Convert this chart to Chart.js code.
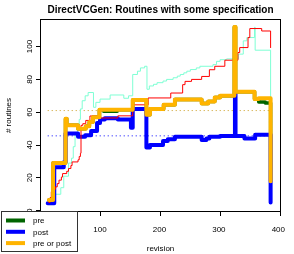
<!DOCTYPE html>
<html>
<head>
<meta charset="utf-8">
<script src="https://cdn.jsdelivr.net/npm/chart.js@4.4.1/dist/chart.umd.min.js"></script>
<style>
  html, body { margin: 0; padding: 0; background: #fff; }
</style>
</head>
<body>
<canvas id="myChart" width="294" height="254"></canvas>
<script>
// [revision, routines] pairs, each value holds until the next revision
const pre = [[14, 6.5], [21, 29], [42, 56], [44, 52], [63, 50], [76, 51.5], [82, 54], [88, 57], [99, 61.5],
  [106, 60.6], [129, 61.5], [155, 67.5], [178, 58.5], [184, 62], [207, 64.5], [226, 67.7], [271, 65.3],
  [282, 66.5], [293, 69], [302, 70], [326, 112], [328, 72.5], [360, 68], [367, 66.3], [378, 65.6], [387, 18]];
const post = [[12, 4.5], [23, 26.5], [39, 29.5], [42, 47], [63, 45], [75, 46], [85, 48.5], [95, 53.5],
  [100, 55.5], [108, 56.3], [130, 55.5], [152, 50.5], [155, 62], [178, 38.5], [184, 40], [206, 42.5],
  [214, 43.5], [226, 45], [271, 43], [279, 44], [284, 45], [302, 45.5], [327, 71], [328, 45.5],
  [343, 44], [361, 46.3], [387, 5]];
const preOrPost = [[14, 6.5], [21, 29], [42, 56], [44, 52], [63, 50], [76, 51.5], [82, 54], [88, 57], [99, 61.5],
  [155, 67.5], [178, 58.5], [184, 62], [207, 64.5], [226, 67.7], [271, 65.3], [282, 66.5], [293, 69],
  [302, 70], [326, 112], [328, 72.5], [360, 68], [367, 68.5], [387, 18]];
const allRoutines = [[14, 5], [16, 8], [18, 11.5], [21, 13], [25, 14.5], [28, 16.5], [31, 18.6], [35, 20.5],
  [37, 22.6], [44, 24], [47, 25.7], [51, 27.5], [53, 29.7], [63, 31], [65, 33], [67, 35], [68, 52], [71, 53],
  [76, 55], [83, 57.7], [96, 56.5], [130, 57.8], [155, 64.5], [181, 68.7], [219, 71.7], [239, 76.8],
  [243, 78.8], [254, 80], [271, 81.8], [284, 85.9], [293, 88], [310, 91.7], [332, 96.4], [335, 99.4],
  [349, 105.5], [352, 111], [372, 109.5], [387, 99.4]];
const otherRoutines = [[15, 6], [21, 10], [34, 14], [39, 21], [47, 29], [52, 32], [55, 39], [58, 47.5],
  [62, 50], [65, 55.6], [67, 62], [70, 67], [75, 70], [80, 72], [89, 63], [93, 66], [100, 68], [117, 70.5],
  [140, 68.5], [148, 70], [155, 83], [163, 85], [168, 87], [175, 88], [179, 74], [183, 76], [190, 77],
  [196, 78], [206, 79], [212, 80], [223, 81], [230, 82], [235, 83], [241, 84], [246, 85], [252, 86],
  [262, 87], [268, 88], [290, 89], [296, 91], [302, 92], [313, 92.5], [333, 95.4], [341, 103.5],
  [347, 105.5], [360, 111.8], [361, 97.8], [387, 18]];
const meanPost = 45.6;
const meanPreOrPost = 61;
const revRange = [12, 387];
const xTicks = [100, 200, 300, 400];
const yTicks = [0, 20, 40, 60, 80, 100];
const legendLabels = ["pre", "post", "pre or post"];

const FONT = "'Liberation Sans', Arial, sans-serif";
const toXY = (arr) => arr.map(([x, y]) => ({ x, y }));

function stepLine(data, color, width, order) {
  return {
    data: toXY(data),
    borderColor: color,
    borderWidth: width,
    stepped: true,
    pointRadius: 0,
    fill: false,
    borderCapStyle: "round",
    borderJoinStyle: "round",
    order: order,
  };
}
function hLine(value, color, order) {
  return {
    data: revRange.map((x) => ({ x, y: value })),
    borderColor: color,
    borderWidth: 1,
    borderDash: [1, 3],
    pointRadius: 0,
    fill: false,
    order: order,
  };
}

// frame, tick labels, titles and legend in R style
const rStyle = {
  id: "rStyle",
  afterDraw(chart) {
    const { ctx, chartArea: a, scales } = chart;
    const x = scales.x, y = scales.y;
    ctx.save();
    ctx.strokeStyle = "#000";
    ctx.lineWidth = 1;
    ctx.strokeRect(a.left - 0.5, a.top - 0.5, a.right - a.left + 1, a.bottom - a.top + 1);

    ctx.fillStyle = "#000";
    ctx.font = "8px " + FONT;
    ctx.textAlign = "center";
    ctx.textBaseline = "alphabetic";
    xTicks.forEach((t) => ctx.fillText(String(t), x.getPixelForValue(t), 231.5));
    yTicks.forEach((t) => {
      ctx.save();
      ctx.translate(31.5, y.getPixelForValue(t));
      ctx.rotate(-Math.PI / 2);
      ctx.fillText(String(t), 0, 0);
      ctx.restore();
    });

    const cx = (a.left + a.right) / 2;
    ctx.fillText("revision", cx, 250.5);
    ctx.save();
    ctx.translate(10.5, (a.top + a.bottom) / 2);
    ctx.rotate(-Math.PI / 2);
    ctx.fillText("# routines", 0, 0);
    ctx.restore();

    ctx.font = "bold 10px " + FONT;
    ctx.fillText("DirectVCGen: Routines with some specification", cx, 13.3);

    // legend
    const colors = ["#006400", "#0000FF", "#FFB400"];
    ctx.fillStyle = "#fff";
    ctx.fillRect(1.5, 211.5, 76, 40);
    ctx.strokeStyle = "#333";
    ctx.strokeRect(1.5, 211.5, 76, 40);
    ctx.font = "8px " + FONT;
    ctx.textAlign = "left";
    ctx.textBaseline = "middle";
    legendLabels.forEach((lab, i) => {
      const ly = 220.5 + i * 11.3;
      ctx.strokeStyle = colors[i];
      ctx.lineWidth = 4;
      ctx.beginPath();
      ctx.moveTo(6, ly);
      ctx.lineTo(25, ly);
      ctx.stroke();
      ctx.fillStyle = "#000";
      ctx.fillText(lab, 33, ly + 0.5);
    });
    ctx.restore();
  },
};

new Chart(document.getElementById("myChart"), {
  type: "line",
  data: {
    datasets: [
      hLine(meanPost, "#0000FF", 10),
      hLine(meanPreOrPost, "#C89B1E", 10),
      stepLine(otherRoutines, "#7FFFD4", 1, 9),
      stepLine(pre, "#006400", 3.5, 8),
      stepLine(post, "#0000FF", 4, 7),
      stepLine(allRoutines, "#FF0000", 1, 6),
      stepLine(preOrPost, "#FFB400", 4, 5),
    ],
  },
  options: {
    responsive: false,
    animation: false,
    devicePixelRatio: 1,
    layout: { padding: { top: 20, right: 14, left: 0, bottom: 0 } },
    plugins: {
      legend: { display: false },
      tooltip: { enabled: false },
    },
    scales: {
      x: {
        type: "linear",
        min: 0.7,
        max: 402.8,
        afterFit: (s) => { s.height = 43; },
        border: { display: false },
        grid: { drawOnChartArea: false, drawTicks: true, tickLength: 5, color: "#000" },
        ticks: { display: false, stepSize: 100, includeBounds: false },
      },
      y: {
        type: "linear",
        min: -0.2,
        max: 116.2,
        afterFit: (s) => { s.width = 41; },
        border: { display: false },
        grid: { drawOnChartArea: false, drawTicks: true, tickLength: 5, color: "#000" },
        ticks: { display: false, stepSize: 20, includeBounds: false },
      },
    },
  },
  plugins: [rStyle],
});
</script>
</body>
</html>
